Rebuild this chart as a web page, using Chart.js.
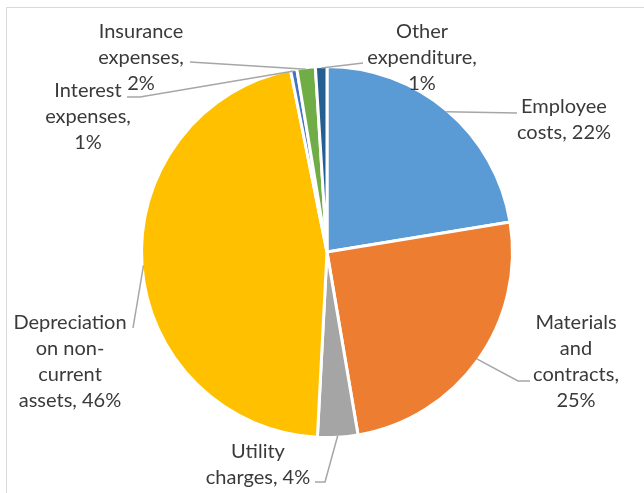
<!DOCTYPE html>
<html>
<head>
<meta charset="utf-8">
<script src="https://cdn.jsdelivr.net/npm/chart.js@4"></script>
<style>
  body { margin: 0; background: #fff; }
  canvas { display: block; }
</style>
</head>
<body>
<canvas id="expChart" width="644" height="493"></canvas>
<script>
// slices, clockwise from 12 o'clock
const categories = [
  'Employee costs',
  'Materials and contracts',
  'Utility charges',
  'Depreciation on non-current assets',
  'Interest expenses',
  'Insurance expenses',
  'Other expenditure'
];
const values = [22.4, 24.9, 3.5, 46.0, 0.55, 1.6, 1.0];
const colors = ['#5B9BD5', '#ED7D31', '#A5A5A5', '#FFC000', '#4472C4', '#70AD47', '#255E91'];

// manual label placement (like dragged Excel data labels)
const labelLayout = [
  { x: 564, y: 120, wrap: 111, leader: [[517, 113]] },
  { x: 576, y: 362, wrap: 105, leader: [[518, 381], [530, 381]] },
  { x: 258, y: 465, wrap: 117, leader: [[325, 482], [315, 482]] },
  { x: 70, y: 362, wrap: 115, leader: [[133, 328]] },
  { x: 88, y: 117, wrap: 100, leader: [[140, 97], [127, 97]] },
  { x: 141, y: 58, wrap: 100, leader: [[190, 62]] },
  { x: 422, y: 58, wrap: 118, leader: [[363, 63]] }
];

const FONT = '20px Lato';
const LINE_H = 26;

function wrapText(ctx, text, maxW) {
  // split on spaces, also allow a break after a hyphen
  const tokens = [];
  text.split(' ').forEach((w, i) => {
    const parts = w.split(/(?<=-)/);
    parts.forEach((p, j) => tokens.push({ t: p, space: i > 0 && j === 0 }));
  });
  const lines = [];
  let cur = '';
  tokens.forEach(tok => {
    const trial = cur === '' ? tok.t : cur + (tok.space ? ' ' : '') + tok.t;
    if (cur !== '' && ctx.measureText(trial).width > maxW) {
      lines.push(cur);
      cur = tok.t;
    } else {
      cur = trial;
    }
  });
  if (cur) lines.push(cur);
  return lines;
}

const frameBox = {
  id: 'frameBox',
  beforeDraw(chart) {
    const ctx = chart.ctx;
    ctx.save();
    ctx.fillStyle = '#fff';
    ctx.fillRect(0, 0, chart.width, chart.height);
    ctx.strokeStyle = '#D9D9D9';
    ctx.lineWidth = 1;
    ctx.strokeRect(6.5, 7.5, 700, 600);
    ctx.restore();
  }
};

const outsideLabels = {
  id: 'outsideLabels',
  afterDatasetsDraw(chart) {
    const ctx = chart.ctx;
    const meta = chart.getDatasetMeta(0);
    const total = values.reduce((a, b) => a + b, 0);
    ctx.save();
    ctx.font = FONT;
    meta.data.forEach((arc, i) => {
      const p = arc.getProps(['x', 'y', 'startAngle', 'endAngle', 'outerRadius'], true);
      const mid = (p.startAngle + p.endAngle) / 2;
      const r = p.outerRadius - 1.5;
      const lay = labelLayout[i];

      ctx.strokeStyle = '#A6A6A6';
      ctx.lineWidth = 1.5;
      ctx.beginPath();
      ctx.moveTo(p.x + Math.cos(mid) * r, p.y + Math.sin(mid) * r);
      lay.leader.forEach(pt => ctx.lineTo(pt[0], pt[1]));
      ctx.stroke();

      const pct = Math.round(values[i] / total * 100);
      const lines = wrapText(ctx, `${categories[i]}, ${pct}%`, lay.wrap);
      ctx.fillStyle = '#3A3A3A';
      ctx.textAlign = 'center';
      ctx.textBaseline = 'middle';
      const top = lay.y - (lines.length - 1) * LINE_H / 2;
      lines.forEach((ln, k) => ctx.fillText(ln, lay.x, top + k * LINE_H));
    });
    ctx.restore();
  }
};

Chart.defaults.font.family = 'Lato';

new Chart(document.getElementById('expChart'), {
  type: 'pie',
  data: {
    labels: categories,
    datasets: [{
      data: values,
      backgroundColor: colors,
      borderColor: '#fff',
      borderWidth: 3
    }]
  },
  options: {
    responsive: false,
    animation: false,
    layout: { padding: { top: 65, bottom: 54, left: 140, right: 130 } },
    plugins: {
      legend: { display: false },
      tooltip: { enabled: false }
    }
  },
  plugins: [frameBox, outsideLabels]
});
</script>
</body>
</html>
